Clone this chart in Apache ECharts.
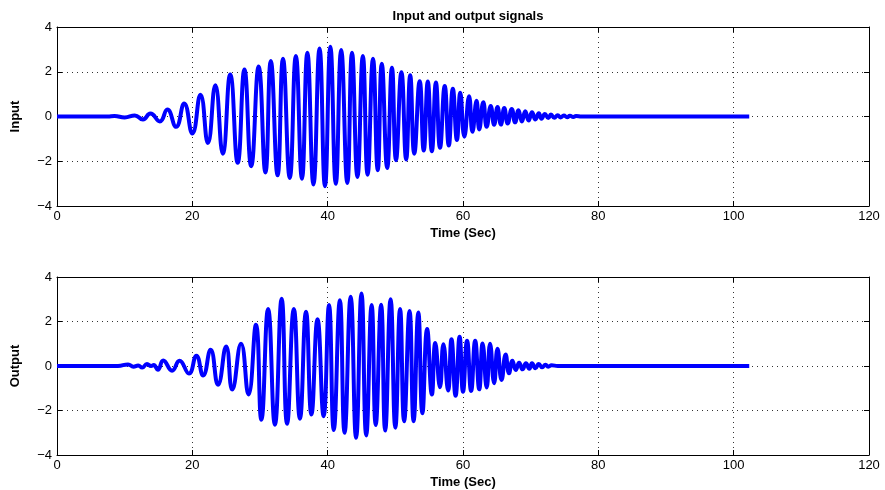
<!DOCTYPE html>
<html>
<head>
<meta charset="utf-8">
<script src="https://cdn.jsdelivr.net/npm/echarts@6/dist/echarts.min.js"></script>
<style>
html,body{margin:0;padding:0;background:#fff;}
#chart{width:885px;height:490px;}
</style>
</head>
<body>
<div id="chart"></div>
<script>
// ---- data (peaks / troughs of each signal) ----
const inputTime = [0, 7.5, 8.5, 10.0, 11.5, 12.7, 13.8, 15.2, 16.3, 17.6, 18.8, 20.0, 21.2, 22.3, 23.4, 24.5, 25.6, 26.7, 27.7, 28.7, 29.8, 30.8, 31.6, 32.6, 33.4, 34.4, 35.3, 36.2, 37.0, 37.9, 38.8, 39.6, 40.4, 41.2, 42.0, 42.9, 43.6, 44.4, 45.2, 45.9, 46.7, 47.4, 48.0, 48.8, 49.5, 50.1, 50.9, 51.6, 52.2, 52.8, 53.6, 54.2, 54.8, 55.4, 56.0, 56.6, 57.3, 57.9, 58.5, 59.1, 59.6, 60.2, 60.9, 61.4, 62.0, 62.4, 63.0, 63.5, 64.1, 64.6, 65.1, 65.6, 66.1, 66.6, 67.2, 67.7, 68.2, 68.7, 69.2, 69.7, 70.2, 70.7, 71.2, 71.6, 72.1, 72.6, 73.0, 73.5, 74.0, 74.4, 74.9, 75.4, 75.8, 76.3, 76.7, 77.5, 102.3];
const inputValue = [0, 0, 0.02, -0.04, 0.05, -0.13, 0.13, -0.22, 0.31, -0.46, 0.58, -0.76, 0.97, -1.18, 1.40, -1.66, 1.88, -2.07, 2.10, -2.22, 2.23, -2.50, 2.48, -2.63, 2.58, -2.75, 2.70, -2.78, 2.85, -3.04, 3.04, -3.12, 3.12, -3.01, 2.97, -2.97, 2.85, -2.70, 2.70, -2.60, 2.58, -2.40, 2.36, -2.30, 2.18, -1.95, 1.98, -1.92, 1.84, -1.66, 1.58, -1.52, 1.56, -1.55, 1.52, -1.40, 1.36, -1.30, 1.24, -1.05, 1.06, -0.90, 0.90, -0.68, 0.70, -0.58, 0.64, -0.46, 0.47, -0.37, 0.43, -0.36, 0.38, -0.31, 0.34, -0.26, 0.28, -0.22, 0.24, -0.18, 0.19, -0.13, 0.15, -0.10, 0.11, -0.07, 0.09, -0.06, 0.06, -0.04, 0.04, -0.03, 0.03, -0.02, 0.02, 0, 0];

const outputTime = [0, 9.0, 10.5, 11.3, 12.0, 12.6, 13.3, 13.9, 14.3, 14.9, 15.7, 17.0, 18.1, 19.5, 20.6, 21.6, 22.7, 23.8, 25.0, 25.9, 27.2, 28.3, 29.4, 30.2, 31.2, 32.2, 33.2, 34.0, 35.0, 35.9, 36.8, 37.6, 38.5, 39.4, 40.2, 40.9, 41.8, 42.5, 43.4, 44.2, 45.0, 45.7, 46.5, 47.1, 47.9, 48.5, 49.3, 50.0, 50.7, 51.3, 52.1, 52.7, 53.4, 54.0, 54.7, 55.4, 55.9, 56.6, 57.1, 57.8, 58.3, 58.9, 59.5, 60.0, 60.6, 61.2, 61.8, 62.4, 62.9, 63.5, 64.0, 64.6, 65.1, 65.7, 66.3, 66.8, 67.3, 67.8, 68.3, 68.8, 69.3, 69.8, 70.2, 70.7, 71.2, 71.7, 72.2, 72.6, 73.1, 74.0, 102.3];
const outputValue = [0, 0, 0.07, -0.03, 0.02, -0.07, 0.09, 0.0, 0.04, -0.17, 0.25, -0.21, 0.24, -0.34, 0.46, -0.43, 0.73, -0.84, 0.88, -1.06, 1.00, -1.28, 1.85, -2.42, 2.56, -2.64, 3.02, -2.60, 2.56, -2.37, 2.44, -2.18, 2.10, -2.26, 2.74, -2.88, 2.95, -3.00, 3.11, -3.23, 3.26, -3.12, 2.74, -2.65, 2.75, -2.90, 3.00, -2.77, 2.56, -2.48, 2.47, -2.48, 2.40, -2.12, 1.66, -1.28, 1.03, -0.95, 0.98, -1.10, 1.20, -1.34, 1.32, -1.16, 1.14, -1.12, 1.13, -1.05, 1.01, -0.97, 1.00, -0.77, 0.78, -0.63, 0.52, -0.33, 0.24, -0.18, 0.15, -0.15, 0.12, -0.12, 0.12, -0.10, 0.09, -0.06, 0.06, -0.03, 0.03, 0, 0];

const xTicks = [0, 20, 40, 60, 80, 100, 120];
const yTicks = [-4, -2, 0, 2, 4];
const chartTitle = 'Input and output signals';
const xName = 'Time (Sec)';
const yNames = ['Input', 'Output'];

// ---- chart ----
const FONT = '"Liberation Sans", Arial, Helvetica, sans-serif';
const pairs = (t, v) => t.map((x, i) => [x, v[i]]);
const minusFmt = v => String(v).replace('-', '\u2212');

function xAxes(gi) {
  const base = {
    gridIndex: gi, type: 'value',
    min: xTicks[0], max: xTicks[xTicks.length - 1], interval: xTicks[1] - xTicks[0],
    axisLine: {show: true, onZero: false, lineStyle: {color: '#000', width: 1}},
    axisTick: {show: true, inside: true, length: 5, lineStyle: {color: '#000'}},
  };
  return [
    Object.assign({}, base, {
      position: 'bottom',
      axisLabel: {color: '#000', fontSize: 13, fontFamily: FONT, margin: 4},
      splitLine: {show: true, lineStyle: {color: '#333', type: [1, 4], width: 1}},
      name: xName, nameLocation: 'middle', nameGap: 21,
      nameTextStyle: {color: '#000', fontWeight: 'bold', fontSize: 13, fontFamily: FONT}
    }),
    Object.assign({}, base, {
      position: 'top', axisLabel: {show: false}, splitLine: {show: false}
    })
  ];
}
function yAxes(gi) {
  const base = {
    gridIndex: gi, type: 'value',
    min: yTicks[0], max: yTicks[yTicks.length - 1], interval: yTicks[1] - yTicks[0],
    axisLine: {show: true, onZero: false, lineStyle: {color: '#000', width: 1}},
    axisTick: {show: true, inside: true, length: 5, lineStyle: {color: '#000'}},
  };
  return [
    Object.assign({}, base, {
      position: 'left',
      axisLabel: {color: '#000', fontSize: 13, fontFamily: FONT, margin: 5, formatter: minusFmt},
      splitLine: {show: true, lineStyle: {color: '#333', type: [1, 4], width: 1}},
      name: yNames[gi], nameLocation: 'middle', nameGap: 35,
      nameTextStyle: {color: '#000', fontWeight: 'bold', fontSize: 13, fontFamily: FONT}
    }),
    Object.assign({}, base, {
      position: 'right', axisLabel: {show: false}, splitLine: {show: false}
    })
  ];
}

const chart = echarts.init(document.getElementById('chart'), null, {renderer: 'canvas'});
chart.setOption({
  animation: false,
  backgroundColor: '#fff',
  title: {
    text: chartTitle, left: 463, top: 5, textAlign: 'center',
    textStyle: {color: '#000', fontWeight: 'bold', fontSize: 13, fontFamily: FONT}
  },
  grid: [
    {left: 57, right: 16, top: 27, height: 179},
    {left: 57, right: 16, top: 277, height: 179}
  ],
  xAxis: [...xAxes(0), ...xAxes(1)],
  yAxis: [...yAxes(0), ...yAxes(1)],
  series: [
    {type: 'line', xAxisIndex: 0, yAxisIndex: 0, data: pairs(inputTime, inputValue),
     smooth: 0.5, showSymbol: false, lineStyle: {color: '#0000ff', width: 4}},
    {type: 'line', xAxisIndex: 2, yAxisIndex: 2, data: pairs(outputTime, outputValue),
     smooth: 0.5, showSymbol: false, lineStyle: {color: '#0000ff', width: 4}}
  ]
});
</script>
</body>
</html>
